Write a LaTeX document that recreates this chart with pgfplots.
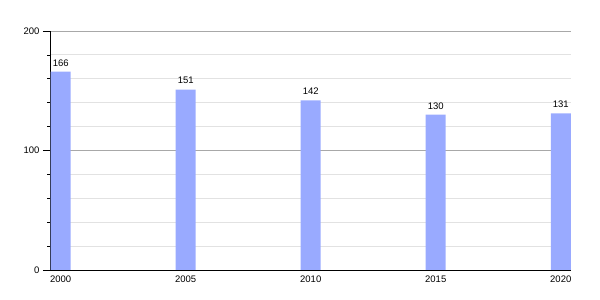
\documentclass[border=0pt]{standalone}
\usepackage{pgfplots}
\pgfplotsset{compat=1.18}
\usepackage{fontspec}
\setmainfont{Liberation Sans}
\definecolor{barblue}{HTML}{99AAFF}
\definecolor{majgrid}{HTML}{A8A8A8}
\definecolor{mingrid}{HTML}{E2E2E2}
\begin{document}
\begin{tikzpicture}
\path[use as bounding box] (0,0) rectangle (600pt,300pt);
\begin{axis}[
  at={(50pt,30pt)}, anchor=south west,
  scale only axis, width=521pt, height=239pt,
  xmin=-0.0856, xmax=4.082,
  ymin=0, ymax=200,
  axis lines*=left,
  axis line style={-, black, line width=0.8pt},
  xtick={0,1,2,3,4},
  xticklabels={2000,2005,2010,2015,2020},
  x tick style={draw=none},
  major x tick style={draw=none},
  ytick={0,100,200},
  minor y tick num=4,
  tick align=outside,
  major tick length=7pt,
  minor tick length=3pt,
  y tick style={black, line width=0.6pt},
  ymajorgrids, yminorgrids,
  major grid style={majgrid, line width=0.8pt},
  minor grid style={mingrid, line width=0.8pt},
  tick label style={font=\fontsize{9.5}{11}\selectfont},
  /pgf/number format/assume math mode=true,
  xticklabel style={yshift=5pt},
  ybar, bar width=20pt,
  nodes near coords,
  every node near coord/.append style={font=\fontsize{9.5}{11}\selectfont, black, yshift=2pt},
  clip=false,
]
\addplot[fill=barblue, draw=none] coordinates {(0,166) (1,151) (2,142) (3,130) (4,131)};
\end{axis}
\end{tikzpicture}
\end{document}
